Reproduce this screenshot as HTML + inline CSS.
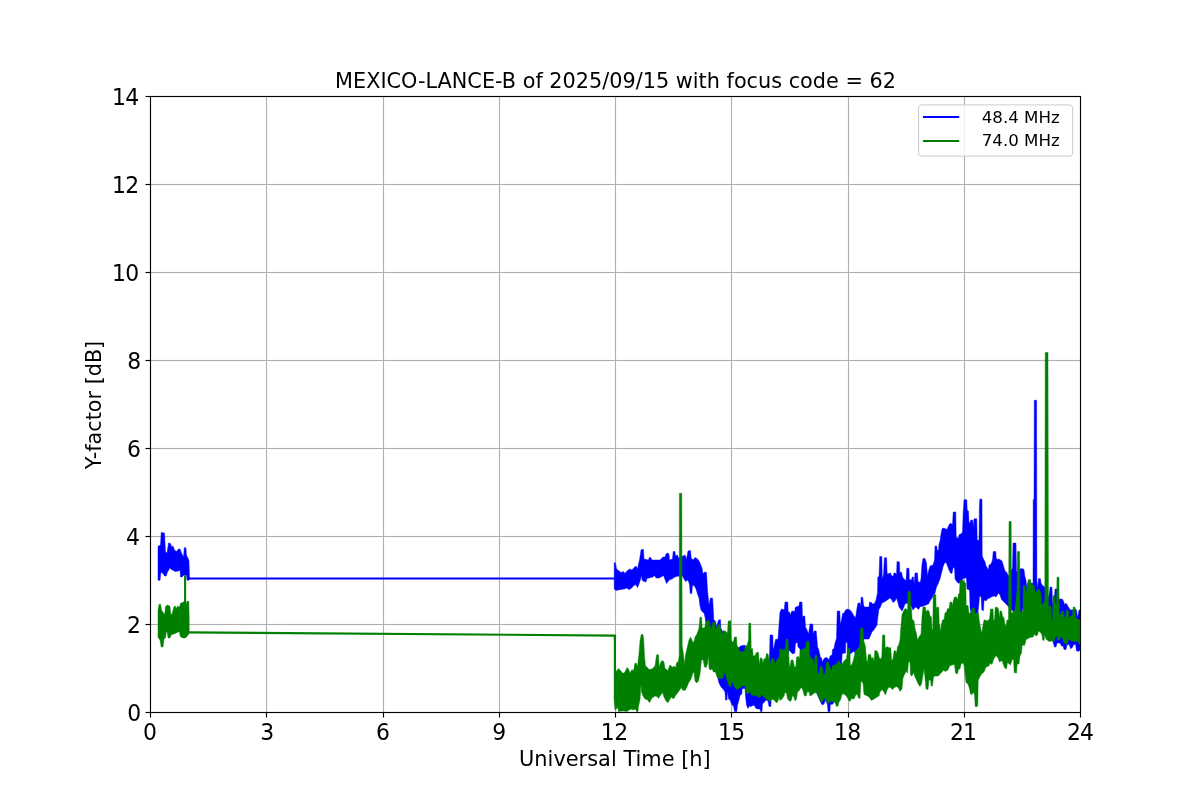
<!DOCTYPE html>
<html lang="en">
<head>
<meta charset="utf-8">
<title>MEXICO-LANCE-B of 2025/09/15 with focus code = 62</title>
<style>
html,body{margin:0;padding:0;background:#fff;}
body{width:1200px;height:800px;overflow:hidden;}
svg{display:block;}
</style>
</head>
<body>
<svg width="1200" height="800" viewBox="0 0 1200 800">
<rect width="1200" height="800" fill="#fff"/>
<path d="M266.5 97V712M383.5 97V712M499.5 97V712M615.5 97V712M731.5 97V712M848.5 97V712M964.5 97V712M151 624.5H1080M151 536.5H1080M151 448.5H1080M151 360.5H1080M151 272.5H1080M151 184.5H1080" fill="none" stroke="#b0b0b0" stroke-opacity="0.065" stroke-width="3"/>
<path d="M266.5 97V712M383.5 97V712M499.5 97V712M615.5 97V712M731.5 97V712M848.5 97V712M964.5 97V712M151 624.5H1080M151 536.5H1080M151 448.5H1080M151 360.5H1080M151 272.5H1080M151 184.5H1080" fill="none" stroke="#b0b0b0" stroke-width="1"/>
<g clip-path="url(#ax)">
<defs><clipPath id="ax"><rect x="150.5" y="96.5" width="930" height="616"/></clipPath></defs>
<polygon fill="#0000ff" stroke="#0000ff" stroke-width="0.45" stroke-linejoin="round" points="158.0,546.2 160.5,545.0 161.2,532.5 164.5,533.0 165.5,552.0 167.0,553.0 168.5,543.0 170.5,543.5 171.8,547.0 173.0,546.0 174.5,550.0 176.5,551.5 178.5,549.0 180.0,549.0 181.5,553.0 183.5,557.0 184.3,547.5 186.0,548.0 186.5,555.5 188.0,558.0 189.0,561.0 189.5,577.5 189.5,579.5 188.5,580.5 187.0,580.0 186.5,575.0 184.0,575.0 182.0,577.0 180.5,577.0 180.0,570.0 178.5,571.0 175.0,571.5 171.5,569.5 170.0,568.0 167.5,572.0 166.2,576.0 164.5,576.0 163.0,573.5 161.0,572.0 160.0,580.5 158.0,580.0"/>
<path d="M189 578.5H615" stroke="#0000ff" stroke-width="2.08" fill="none"/>
<polygon fill="#0000ff" stroke="#0000ff" stroke-width="0.45" stroke-linejoin="round" points="614.2,562.5 615.5,563.0 616.5,569.0 618.5,570.5 621.0,572.5 623.5,571.5 625.0,573.5 626.5,571.5 629.5,569.0 631.0,569.5 632.0,570.0 635.0,566.5 636.5,566.5 637.5,569.0 638.5,564.0 639.5,560.0 641.0,550.0 641.5,549.5 643.5,549.5 644.0,559.0 648.5,560.0 649.5,557.0 651.0,558.0 652.0,560.0 660.0,560.0 663.0,557.0 665.0,557.0 666.0,554.0 667.5,553.0 669.0,554.0 669.5,560.0 672.5,559.0 673.2,551.5 675.0,551.5 675.5,556.0 677.5,555.0 678.5,558.0 683.0,556.0 685.0,555.0 686.5,559.0 688.0,551.0 690.5,550.5 691.2,558.0 693.0,560.0 695.0,557.5 697.0,558.5 698.5,560.0 700.0,563.0 702.0,568.0 703.0,574.0 704.5,572.0 706.5,572.5 707.5,590.0 709.0,605.0 710.0,600.0 710.5,598.0 712.5,598.0 713.0,604.0 713.8,620.0 715.5,621.0 716.5,627.0 718.5,620.0 720.5,619.8 720.8,628.0 725.0,636.0 730.0,640.0 738.8,648.0 740.0,646.2 742.0,645.8 744.5,645.0 745.5,646.0 750.0,670.0 769.0,670.0 769.7,650.0 770.0,635.0 772.8,635.0 773.2,650.0 774.0,647.0 775.5,639.5 778.0,639.0 779.0,625.0 780.0,612.0 781.5,609.0 783.5,609.5 784.2,610.0 785.0,602.0 787.8,602.0 788.2,612.0 789.5,612.0 790.5,615.0 791.5,611.5 793.0,611.0 794.8,611.5 795.2,607.5 797.0,606.5 799.0,606.0 799.5,602.0 802.0,602.0 802.5,618.0 803.2,616.0 804.8,616.0 805.5,627.0 807.0,630.0 808.5,634.0 810.0,624.0 812.8,624.0 813.2,634.0 814.2,631.0 816.2,631.0 817.0,640.0 817.5,647.0 818.5,649.0 820.0,655.0 820.0,656.5 821.5,658.0 822.5,662.0 824.0,658.5 826.0,657.5 827.5,658.0 829.0,660.0 830.0,656.0 832.0,655.0 832.5,649.5 834.0,648.5 835.0,643.0 836.0,640.0 836.5,638.0 837.2,611.0 839.8,611.0 840.3,624.0 841.5,620.0 842.5,613.5 844.0,613.0 845.5,610.0 847.5,609.0 850.0,610.0 852.0,612.5 854.0,616.0 855.5,618.0 857.0,608.0 858.0,603.0 860.0,603.0 860.5,608.0 861.2,597.0 862.8,597.5 863.5,605.0 864.5,607.0 867.0,607.0 869.0,607.0 869.5,602.0 871.5,602.5 872.5,604.0 874.5,603.5 876.0,600.0 877.5,593.0 877.8,577.0 879.0,576.5 879.7,556.5 881.8,556.5 882.3,579.0 883.5,574.5 884.4,557.8 886.6,557.8 887.2,574.0 889.0,573.5 890.5,573.0 891.5,575.5 893.0,576.5 894.0,573.0 895.5,573.0 896.5,575.0 897.0,561.5 899.5,562.0 899.8,572.5 901.5,572.0 902.5,577.0 904.5,579.5 906.0,580.5 906.8,568.0 909.0,568.5 909.3,579.5 911.5,580.0 912.2,577.0 913.5,577.0 914.2,584.0 915.0,573.0 917.5,573.0 918.0,581.5 920.0,582.5 921.0,579.0 921.0,579.0 922.0,564.0 923.0,558.5 925.0,558.5 925.5,560.0 926.5,563.0 927.5,576.0 928.5,571.0 930.0,566.0 933.0,565.0 934.5,560.0 935.0,546.0 936.8,546.0 937.2,550.0 938.5,550.5 939.0,544.0 940.0,541.0 941.0,534.0 942.0,529.0 943.0,528.0 945.0,528.5 947.0,529.5 948.0,527.0 949.5,524.0 950.5,523.2 952.5,524.5 953.2,512.0 955.8,512.0 956.2,537.5 958.5,538.0 959.2,534.5 961.0,534.0 962.5,532.0 963.2,512.0 964.0,499.8 966.8,499.8 967.2,510.0 968.5,511.0 969.0,522.5 970.0,523.0 970.7,520.0 972.8,520.2 973.2,528.0 974.0,518.8 976.8,518.8 977.2,540.0 979.0,540.5 979.4,507.0 979.8,499.0 982.0,499.2 982.2,556.0 983.5,559.0 984.0,560.0 985.0,562.0 986.0,566.0 987.5,568.0 988.5,570.0 989.0,565.0 991.0,564.0 992.5,560.0 993.2,551.5 995.8,551.5 996.2,558.0 997.5,559.5 999.0,559.0 1000.5,560.0 1002.0,561.0 1003.5,566.0 1005.0,571.0 1006.5,572.0 1008.0,575.0 1008.8,576.0 1011.5,570.0 1012.5,568.0 1013.0,543.0 1016.0,543.0 1016.5,572.0 1020.0,569.0 1022.0,568.5 1024.0,569.5 1024.8,576.0 1026.0,580.0 1026.8,588.0 1027.5,584.0 1032.5,583.0 1033.0,585.0 1033.2,500.0 1034.0,499.0 1034.3,400.3 1036.6,400.3 1036.9,580.0 1037.5,588.5 1038.5,578.5 1040.5,578.8 1041.0,583.0 1042.5,585.5 1044.0,586.5 1044.8,587.0 1048.5,598.0 1049.5,592.0 1050.0,587.0 1052.0,587.2 1052.5,603.0 1054.0,605.0 1055.0,589.0 1056.8,589.0 1059.2,600.0 1060.0,599.0 1062.0,599.0 1063.5,601.0 1064.5,605.0 1065.5,603.0 1067.0,604.5 1069.0,608.0 1070.5,610.0 1072.0,610.0 1075.5,609.0 1076.5,610.0 1077.5,618.0 1079.0,610.0 1080.0,610.0 1080.0,650.0 1079.0,651.2 1076.5,651.0 1075.5,644.0 1073.5,645.0 1072.0,648.0 1070.5,648.5 1069.0,644.0 1067.0,645.0 1066.0,649.5 1064.0,649.5 1063.0,646.0 1061.5,646.0 1060.0,643.0 1057.0,643.0 1056.0,647.0 1054.5,647.0 1053.0,642.0 1052.5,635.0 1048.0,625.0 1030.0,620.0 1030.0,620.0 1026.0,610.0 1023.0,608.0 1022.0,612.0 1020.0,612.0 1014.5,611.0 1013.5,612.0 1012.0,610.0 1008.5,607.0 1007.0,605.0 1005.0,603.0 1003.0,601.0 1001.5,599.5 1000.0,595.0 998.5,593.0 996.0,597.0 994.5,596.0 992.0,596.5 990.0,598.0 988.0,598.5 986.0,601.0 984.0,600.0 983.5,610.5 981.8,610.0 981.2,597.0 979.5,596.0 979.0,603.0 978.0,612.0 976.0,614.5 975.0,614.0 972.5,610.0 971.0,613.0 970.0,608.0 969.5,590.0 967.0,589.0 966.5,578.0 964.0,578.0 959.0,583.5 957.0,582.0 955.0,579.0 954.5,567.5 953.0,568.0 952.0,573.5 950.5,573.0 949.0,570.0 947.5,566.0 946.2,562.5 944.5,563.0 943.0,567.0 941.5,573.0 940.0,579.0 938.0,584.0 936.5,587.0 935.0,593.0 932.0,598.0 930.0,601.0 928.5,604.0 926.0,605.0 922.0,606.5 920.0,606.5 920.0,607.0 918.5,609.5 916.0,607.0 914.5,608.0 913.0,610.0 911.0,606.0 907.0,603.0 905.0,604.0 903.5,608.0 902.0,611.0 900.5,609.0 899.0,607.0 898.0,603.0 896.5,598.0 895.0,601.0 893.0,602.5 891.5,599.5 890.0,598.0 888.0,599.5 885.0,601.5 882.0,603.0 880.0,608.0 879.0,609.0 878.0,616.0 877.0,625.0 874.5,629.0 872.0,632.0 869.0,639.0 864.0,639.0 860.0,646.0 855.0,653.0 854.0,651.0 850.3,654.0 847.5,653.0 847.2,642.5 845.8,642.5 845.5,653.0 842.2,653.5 841.5,666.0 836.0,680.0 834.0,701.0 833.0,704.0 831.5,704.5 830.3,704.0 830.0,711.5 828.0,711.5 827.5,705.0 825.5,700.0 824.0,704.0 822.5,705.0 821.0,703.0 818.0,696.0 810.0,680.0 802.0,660.0 800.0,649.0 798.0,647.0 797.5,642.5 795.5,643.0 794.8,653.0 793.0,654.0 791.0,652.5 789.0,650.0 780.0,690.0 775.0,695.0 771.2,700.0 770.8,706.5 769.0,706.5 768.0,701.0 766.0,700.0 764.5,702.0 762.5,704.0 762.0,711.5 760.5,711.5 760.0,709.0 758.0,709.0 756.0,708.5 754.0,705.0 751.0,706.5 749.5,706.0 748.0,708.5 746.5,705.0 745.5,696.0 745.0,688.5 742.2,688.5 741.8,694.0 740.0,695.5 739.0,700.0 737.5,705.0 736.8,711.5 734.5,711.5 733.5,706.0 732.0,705.0 730.0,700.0 728.5,699.0 727.5,691.0 727.0,700.0 725.5,700.0 725.0,692.0 723.0,689.0 721.0,687.0 719.0,683.0 718.0,679.0 708.0,630.0 706.0,624.0 705.0,617.0 704.0,613.0 702.5,612.0 701.0,610.0 700.0,606.0 699.0,598.0 697.5,594.0 696.0,589.0 694.5,586.0 692.5,585.0 691.8,593.5 690.2,593.5 689.5,584.5 688.0,580.0 685.5,581.5 684.0,579.0 682.5,576.0 679.0,576.2 677.0,576.2 674.0,577.5 672.0,579.0 670.0,579.5 668.5,581.0 666.5,583.5 665.0,579.5 663.5,575.5 662.0,576.5 659.0,578.0 656.0,578.0 654.5,575.5 653.0,577.0 650.0,577.8 647.0,578.5 646.0,582.0 644.0,581.5 642.0,580.0 641.5,575.0 640.5,579.5 639.0,584.0 637.5,587.5 635.5,584.5 634.0,585.5 631.0,588.5 629.0,589.8 627.0,588.0 624.0,589.0 621.0,589.5 618.5,590.0 616.0,590.5 614.2,589.0"/>
<polygon fill="#008000" stroke="#008000" stroke-width="0.45" stroke-linejoin="round" points="158.0,610.5 159.0,604.5 160.5,604.0 161.5,610.0 163.5,613.0 164.8,614.0 165.5,606.5 167.5,605.0 170.0,606.2 170.8,614.5 172.0,614.0 174.0,606.5 175.5,606.2 176.2,609.0 177.5,606.2 179.5,607.0 180.5,603.2 183.0,602.5 184.3,601.0 186.2,604.0 187.0,601.2 188.8,601.2 189.2,618.0 189.2,633.0 188.8,634.0 187.0,636.5 185.0,638.0 183.0,638.0 180.2,636.5 179.5,631.5 175.0,633.5 171.2,635.0 170.0,638.0 168.2,638.0 167.0,632.0 166.2,632.0 165.5,638.0 164.0,639.0 163.0,647.0 161.2,647.0 160.0,640.0 158.0,637.5"/>
<path d="M185.1 635V576" stroke="#008000" stroke-width="2.08" stroke-linecap="round" fill="none"/>
<path d="M188.5 632.4L615 635.6V700" stroke="#008000" stroke-width="2.08" stroke-linejoin="round" fill="none"/>
<polygon fill="#008000" stroke="#008000" stroke-width="0.45" stroke-linejoin="round" points="614.2,635.5 615.8,672.0 618.5,668.5 620.0,670.0 623.0,673.5 625.0,672.0 627.0,667.5 628.5,669.0 630.0,673.0 632.0,669.5 633.5,671.0 635.0,663.0 636.5,663.5 637.5,667.0 639.0,653.0 640.0,641.0 641.2,634.5 643.0,634.5 643.7,640.0 644.5,656.0 645.5,666.0 647.0,667.0 649.0,669.5 652.0,669.0 655.0,666.0 656.5,655.0 657.5,654.5 658.5,655.0 659.2,667.0 661.0,661.5 662.5,660.5 664.0,662.0 665.0,668.5 668.0,670.5 669.5,665.5 671.0,665.5 672.0,667.5 674.0,666.0 675.5,668.0 676.5,663.0 678.5,661.0 679.2,655.0 679.4,493.3 681.8,493.3 682.2,646.0 683.0,651.0 684.5,664.0 685.5,655.0 688.0,644.0 689.0,640.0 690.5,637.0 692.0,640.0 693.0,643.0 694.5,640.0 695.0,637.0 697.0,634.0 699.0,628.0 700.0,617.0 701.5,617.5 702.2,628.0 704.5,628.0 706.0,622.0 708.0,619.5 709.5,622.0 711.0,629.0 711.5,629.0 713.0,622.0 715.0,622.0 715.5,630.0 718.0,625.0 720.0,624.5 720.5,629.0 722.0,634.0 723.5,630.5 726.0,631.5 727.5,633.0 728.2,621.0 730.8,620.8 731.2,640.0 733.0,643.0 734.5,637.0 736.5,637.0 737.0,646.0 738.5,647.8 739.5,651.0 742.0,652.0 744.5,651.2 745.2,646.2 747.0,645.5 748.5,640.0 748.8,623.2 750.8,623.2 751.2,649.0 752.5,648.5 753.2,656.0 754.5,656.0 757.0,652.0 758.5,652.5 759.2,664.0 760.5,657.5 762.0,658.5 763.0,663.0 764.0,658.5 765.5,659.0 766.5,653.5 768.0,654.0 769.0,659.0 770.0,664.0 772.0,658.5 773.5,658.5 775.5,664.5 777.0,659.0 779.0,658.0 780.0,649.0 780.5,648.5 782.0,650.5 783.5,649.5 785.0,649.5 786.2,640.0 786.5,639.0 788.0,639.0 788.5,650.0 789.5,667.0 790.0,666.5 791.2,660.0 793.0,660.0 794.5,667.0 795.8,667.0 796.5,657.0 798.5,656.5 799.5,659.0 800.0,650.0 802.0,650.0 803.5,648.5 805.5,648.0 806.5,641.5 808.5,641.2 809.0,642.0 809.5,655.0 811.0,658.5 813.0,659.0 814.0,667.0 815.0,655.5 816.5,655.0 817.0,656.0 817.5,672.0 819.0,674.5 820.0,666.5 820.0,666.0 822.0,667.0 823.5,675.0 825.0,674.0 826.5,662.5 828.0,661.5 829.5,666.0 831.5,671.0 832.5,665.5 834.0,665.5 835.0,664.5 837.0,663.5 838.0,661.0 839.5,661.0 840.5,664.5 842.0,664.0 844.0,661.0 846.5,658.5 847.5,648.5 850.0,648.5 850.3,666.0 851.5,665.0 853.0,661.5 855.0,653.0 856.0,650.0 858.0,650.0 859.5,646.0 860.0,640.0 860.5,628.2 863.0,628.2 863.5,640.0 864.5,643.0 865.5,647.0 866.5,660.0 867.5,662.5 868.2,654.5 870.5,654.5 871.5,658.5 873.0,657.5 874.0,661.5 874.8,650.5 877.0,651.0 878.0,653.0 879.5,658.5 880.8,659.0 881.8,657.0 882.5,635.0 884.8,635.0 885.2,649.5 886.0,647.0 888.0,647.0 889.5,648.0 890.8,647.5 891.5,660.5 893.0,658.5 894.2,650.5 895.5,651.0 896.5,653.0 897.5,647.0 899.0,644.0 900.0,640.0 900.8,628.0 902.0,614.5 904.0,610.0 905.0,608.5 906.5,609.0 907.5,611.0 908.0,591.5 910.3,591.5 910.8,607.0 911.5,609.0 912.0,619.0 914.0,621.0 915.0,628.0 916.5,634.0 917.5,640.0 919.0,637.0 921.0,634.0 922.0,616.0 923.0,607.0 925.5,607.0 926.0,612.0 927.5,610.0 929.0,611.0 930.0,616.0 931.0,616.5 931.5,617.0 932.0,629.0 932.8,630.0 933.2,594.5 935.8,594.5 936.2,609.0 937.0,607.0 938.8,607.5 939.2,624.0 940.0,626.0 940.5,632.0 941.5,624.0 942.5,620.0 944.0,619.5 945.0,613.0 946.5,612.0 947.5,608.5 949.0,609.0 950.0,602.0 951.8,602.0 952.2,606.0 953.5,600.0 954.5,597.0 956.5,597.0 957.5,600.0 958.5,594.0 959.5,593.0 960.0,581.0 961.0,580.2 963.5,580.5 964.5,582.5 965.8,583.0 966.2,605.5 968.0,605.5 969.0,613.0 971.0,613.0 972.2,608.0 974.5,608.0 975.0,614.0 976.5,614.5 977.0,612.5 978.5,612.5 979.0,619.0 980.0,625.0 981.0,630.0 981.8,633.0 982.5,628.0 984.0,620.0 985.5,620.0 986.5,621.0 988.0,620.5 989.5,619.0 990.5,609.0 993.0,609.0 993.5,620.0 994.5,620.0 995.2,607.5 997.0,607.0 998.5,609.0 999.5,618.0 1000.0,611.0 1001.5,611.0 1002.5,616.0 1004.0,618.0 1005.0,625.0 1006.0,626.0 1007.0,620.0 1008.5,620.0 1009.0,521.5 1011.2,521.5 1011.4,613.0 1013.0,612.5 1015.0,609.0 1016.0,600.0 1017.0,590.0 1017.4,551.5 1019.6,551.5 1020.0,610.0 1020.5,612.0 1023.0,612.0 1023.2,585.5 1025.2,585.8 1025.6,593.0 1026.5,591.0 1027.5,583.0 1028.5,579.5 1030.5,579.5 1031.2,584.5 1034.0,585.0 1035.0,592.0 1036.5,592.5 1037.5,589.5 1038.5,589.0 1040.0,590.5 1041.0,594.0 1041.2,604.5 1044.0,603.0 1044.8,600.0 1045.2,352.5 1048.0,352.5 1048.5,616.0 1049.2,606.0 1051.0,606.0 1051.5,620.0 1052.5,621.5 1053.0,595.5 1054.8,595.8 1055.2,604.0 1056.5,604.0 1057.0,577.2 1059.0,577.2 1059.2,613.0 1060.5,615.0 1061.2,611.5 1063.5,611.0 1064.0,618.0 1065.5,617.0 1066.5,610.0 1068.5,610.0 1069.0,620.0 1070.5,616.0 1072.5,615.5 1073.2,607.0 1075.0,607.0 1075.5,617.0 1077.5,619.0 1080.0,620.0 1080.0,645.0 1077.5,641.0 1074.5,641.5 1071.5,641.0 1069.0,639.0 1067.0,644.0 1064.0,643.0 1062.5,638.0 1060.5,637.0 1059.5,640.0 1057.5,640.0 1057.0,636.0 1055.5,636.5 1054.0,641.5 1051.5,641.0 1049.0,641.5 1046.0,639.0 1044.8,635.0 1044.0,640.5 1042.5,640.0 1042.0,635.0 1041.0,633.0 1038.5,631.0 1037.5,635.0 1036.0,636.0 1034.5,634.0 1033.0,637.0 1030.0,637.5 1027.0,639.0 1026.0,640.0 1024.5,645.5 1022.2,645.0 1021.5,653.0 1020.0,656.0 1019.0,664.0 1017.2,664.0 1016.5,673.0 1014.2,672.5 1013.5,659.0 1012.0,660.0 1010.5,665.0 1007.5,662.5 1006.5,668.5 1005.0,668.5 1003.5,665.0 1002.0,660.5 999.5,662.0 998.0,658.0 996.0,655.5 993.5,659.5 992.0,664.5 990.0,663.0 989.0,666.0 986.0,667.0 984.0,672.0 981.5,674.0 979.5,677.5 978.2,681.0 977.8,705.5 977.0,706.8 975.2,706.5 974.5,695.0 973.5,692.0 972.0,694.5 970.5,694.0 969.5,689.0 968.0,684.0 966.0,682.5 964.8,672.0 964.0,665.0 963.0,663.0 961.0,664.0 960.0,669.0 958.5,669.0 957.5,674.0 955.5,673.0 954.5,664.5 952.0,665.0 949.5,666.0 948.0,670.0 945.0,671.5 943.5,670.0 942.0,672.0 940.0,674.0 938.5,676.0 935.0,676.0 933.5,677.0 932.5,686.0 931.2,686.0 930.5,680.0 929.0,680.0 928.0,689.5 926.0,689.0 925.0,678.0 924.0,669.0 922.5,678.0 921.5,684.0 920.0,686.5 920.0,686.5 918.5,684.5 916.5,680.0 915.0,677.0 913.5,672.5 912.0,676.0 910.5,675.0 910.0,662.0 908.5,662.0 907.5,673.0 906.0,671.5 904.5,674.5 903.0,678.0 902.0,689.0 900.0,691.5 898.5,688.0 896.5,686.5 894.5,687.5 892.5,689.5 891.0,688.0 889.0,687.0 887.0,690.0 885.5,695.0 884.0,692.0 882.0,689.5 880.0,692.0 879.0,696.0 877.0,697.0 874.0,699.0 871.5,700.5 869.0,697.0 866.5,695.5 864.0,694.5 863.0,683.0 861.0,681.0 860.0,698.5 858.5,698.0 857.0,694.0 855.5,695.5 854.0,699.0 851.5,698.5 850.0,701.5 848.5,700.0 847.0,697.0 845.5,695.0 842.5,693.5 841.5,696.0 840.5,700.0 839.0,702.0 838.0,706.0 836.5,706.5 835.0,702.5 833.0,702.0 831.0,701.0 829.0,703.0 827.5,703.5 826.0,700.0 824.0,698.0 822.0,702.0 820.0,701.0 820.0,700.0 818.5,697.0 817.0,692.5 814.5,693.0 812.0,695.0 810.0,696.0 809.0,692.0 807.5,691.5 806.0,696.0 804.5,696.0 802.5,689.0 801.0,687.5 799.0,691.0 797.5,692.0 796.5,699.0 795.0,701.0 794.0,697.0 792.5,695.5 791.5,700.0 790.0,701.5 787.5,699.0 786.5,693.0 785.0,692.5 784.0,696.0 782.0,699.0 780.0,700.5 779.0,697.0 778.0,701.0 776.5,703.0 774.0,700.0 772.0,699.0 770.0,701.5 768.0,700.0 766.0,699.0 764.0,697.0 761.5,694.5 760.0,697.5 758.0,697.0 755.0,695.0 752.0,695.5 750.0,692.0 747.5,694.0 746.0,692.0 745.0,686.0 742.0,686.0 740.0,688.0 736.5,689.5 734.0,686.0 732.2,681.0 731.0,686.5 729.5,686.5 727.0,680.0 725.0,672.0 722.5,678.5 719.0,678.5 717.0,677.0 715.5,672.0 713.5,672.0 712.0,669.0 710.0,670.0 709.0,668.0 708.5,656.0 707.5,664.0 706.0,667.5 704.5,667.0 703.0,659.5 701.5,660.0 700.0,674.0 698.5,681.0 696.5,683.0 695.0,681.0 694.0,672.0 693.0,673.0 691.0,679.0 688.5,683.0 687.0,687.0 685.0,690.5 682.5,690.0 681.5,687.5 679.0,691.0 676.0,695.0 673.5,699.0 671.5,697.0 670.0,699.0 668.0,702.8 666.0,701.0 664.0,697.0 662.5,692.5 660.0,696.0 658.5,698.5 657.0,696.5 655.0,696.0 652.0,698.0 649.5,702.5 647.0,699.5 645.0,699.0 643.0,696.0 641.5,692.0 641.0,684.0 640.0,700.0 638.5,706.0 638.0,711.5 636.5,711.5 635.5,709.0 633.0,710.0 631.0,709.0 627.0,711.5 623.0,711.0 618.5,711.5 617.5,706.5 616.5,709.0 615.0,710.0 614.2,702.0"/>
</g>
<path d="M150.5 96V713M1080.5 96V713M150 96.5H1081M150 712.5H1081" fill="none" stroke="#000" stroke-opacity="0.065" stroke-width="3"/>
<path d="M150.5 713V717.5M266.5 713V717.5M383.5 713V717.5M499.5 713V717.5M615.5 713V717.5M731.5 713V717.5M848.5 713V717.5M964.5 713V717.5M1080.5 713V717.5M145.5 712.5H150M145.5 624.5H150M145.5 536.5H150M145.5 448.5H150M145.5 360.5H150M145.5 272.5H150M145.5 184.5H150M145.5 96.5H150" fill="none" stroke="#000" stroke-opacity="0.065" stroke-width="3"/>
<path d="M150.5 96V713M1080.5 96V713M150 96.5H1081M150 712.5H1081M150.5 713V717.5M266.5 713V717.5M383.5 713V717.5M499.5 713V717.5M615.5 713V717.5M731.5 713V717.5M848.5 713V717.5M964.5 713V717.5M1080.5 713V717.5M145.5 712.5H150M145.5 624.5H150M145.5 536.5H150M145.5 448.5H150M145.5 360.5H150M145.5 272.5H150M145.5 184.5H150M145.5 96.5H150" fill="none" stroke="#000" stroke-width="1"/>
<g font-family="'DejaVu Sans', 'Liberation Sans', sans-serif" fill="#000">
<text transform="translate(143.10 739.70) scale(0.9690 1.0000)" font-size="22.600">0</text>
<text transform="translate(260.17 739.70) scale(0.9690 1.0000)" font-size="22.600">3</text>
<text transform="translate(376.12 739.70) scale(0.9690 1.0000)" font-size="22.600">6</text>
<text transform="translate(492.18 739.70) scale(0.9690 1.0000)" font-size="22.600">9</text>
<text transform="translate(600.72 739.70) scale(0.9690 1.0000)" font-size="22.600" x="0 14.05">12</text>
<text transform="translate(717.90 739.70) scale(0.9690 1.0000)" font-size="22.600" x="0 13.76">15</text>
<text transform="translate(833.97 739.70) scale(0.9690 1.0000)" font-size="22.600" x="0 13.75">18</text>
<text transform="translate(949.98 739.70) scale(0.9690 1.0000)" font-size="22.600" x="0 13.53">21</text>
<text transform="translate(1066.92 739.70) scale(0.9690 1.0000)" font-size="22.600" x="0 13.61">24</text>
<text transform="translate(127.16 720.70) scale(0.9690 1.0000)" font-size="22.600">0</text>
<text transform="translate(127.08 632.70) scale(0.9690 1.0000)" font-size="22.600">2</text>
<text transform="translate(126.11 544.70) scale(0.9690 1.0000)" font-size="22.600">4</text>
<text transform="translate(127.08 456.70) scale(0.9690 1.0000)" font-size="22.600">6</text>
<text transform="translate(127.16 368.70) scale(0.9690 1.0000)" font-size="22.600">8</text>
<text transform="translate(111.97 280.70) scale(0.9690 1.0000)" font-size="22.600" x="0 13.75">10</text>
<text transform="translate(111.97 192.70) scale(0.9690 1.0000)" font-size="22.600" x="0 13.66">12</text>
<text transform="translate(111.97 104.70) scale(0.9690 1.0000)" font-size="22.600" x="0 13.63">14</text>
<text transform="translate(335.05 88.00) scale(0.9988 1.0000)" font-size="20.833">MEXICO-LANCE-B of 2025/09/15 with focus code = 62</text>
<text transform="translate(519.01 766.00) scale(1.0044 1.0100)" font-size="20.833">Universal Time [h]</text>
<text transform="translate(100.68 469.36) rotate(-90) scale(0.9961 1.0600)" font-size="20.833">Y-factor [dB]</text>
</g>
<rect x="918.60" y="104.90" width="154.00" height="51.20" rx="2.8" fill="#fff" fill-opacity="0.8" stroke="#ccc" stroke-width="1.0"/>
<path d="M924.00 116.95H958.20" stroke="#0000ff" stroke-width="2.08" stroke-linecap="square" fill="none"/>
<path d="M924.00 141.00H958.20" stroke="#008000" stroke-width="2.08" stroke-linecap="square" fill="none"/>
<g font-family="'DejaVu Sans', 'Liberation Sans', sans-serif" fill="#000" font-size="16.667">
<text transform="translate(981.70 123.00) scale(1.0000 1.0000)">48.4 MHz</text>
<text transform="translate(981.70 146.10) scale(1.0000 1.0000)">74.0 MHz</text>
</g>
</svg>
</body>
</html>
